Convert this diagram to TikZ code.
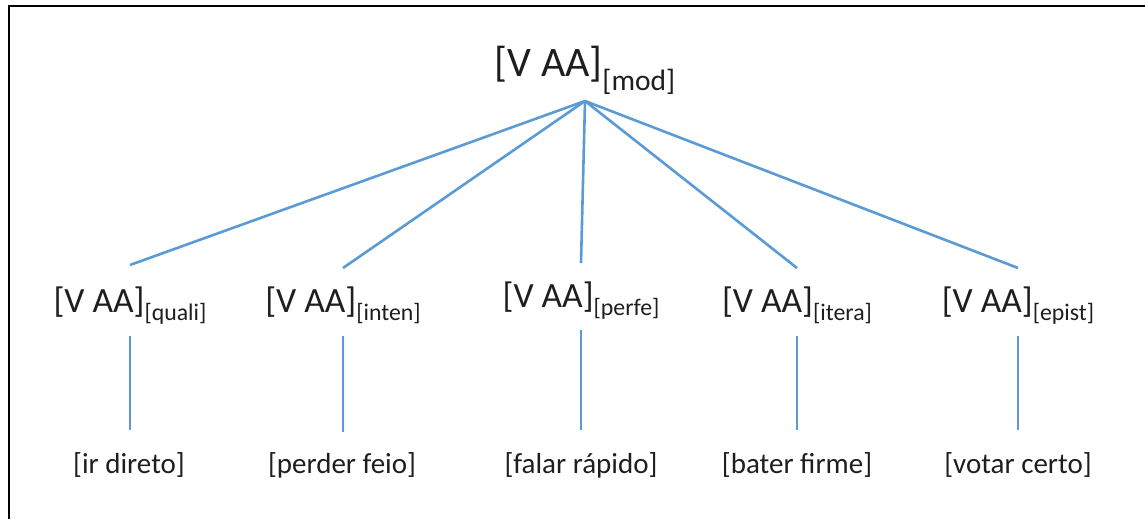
\documentclass[tikz,border=0pt]{standalone}
\usepackage{fontspec}
\setmainfont{Carlito}
\definecolor{lineblue}{RGB}{91,155,213}
\definecolor{txtgray}{RGB}{30,30,30}
\newcommand{\vaatop}[1]{{\fontsize{42}{45}\selectfont [V AA]}\raisebox{-14pt}{\fontsize{29.5}{32}\selectfont [#1]}}
\newcommand{\vaamid}[1]{{\fontsize{35.5}{38}\selectfont [V AA]}\raisebox{-8pt}{\fontsize{23.8}{26}\selectfont [#1]}}
\newcommand{\leaflab}[1]{{\fontsize{29}{32}\selectfont [#1]}}
\begin{document}
\begin{tikzpicture}[x=1pt,y=-1pt,
  lab/.style={inner sep=0pt, anchor=base, text=txtgray},
  conn/.style={draw=lineblue, line width=2.6pt},
  frame/.style={draw=black, line width=2pt}]
\useasboundingbox (0,0) rectangle (1145,519);
\draw[frame] (9,519) -- (9,6) -- (1145,6);
% top node
\node[lab] (top) at (585,76) {\vaatop{mod}};
\coordinate (apex) at (585,101);
% middle nodes
\node[lab] (m1) at (130,312) {\vaamid{quali}};
\node[lab] (m2) at (343,312) {\vaamid{inten}};
\node[lab] (m3) at (581,307) {\vaamid{perfe}};
\node[lab] (m4) at (797,312) {\vaamid{itera}};
\node[lab] (m5) at (1018,312) {\vaamid{epist}};
% leaf nodes
\node[lab] (l1) at (129,473) {\leaflab{ir direto}};
\node[lab] (l2) at (342,473) {\leaflab{perder feio}};
\node[lab] (l3) at (581,473) {\leaflab{falar rápido}};
\node[lab] (l4) at (797,473) {\leaflab{bater firme}};
\node[lab] (l5) at (1018,473) {\leaflab{votar certo}};
% connector endpoints
\coordinate (a1) at (130,265);
\coordinate (a2) at (343,268);
\coordinate (a3) at (581,263);
\coordinate (a4) at (797,268);
\coordinate (a5) at (1018,268);
\coordinate (b1) at (130,336); \coordinate (c1) at (130,430);
\coordinate (b2) at (343,336); \coordinate (c2) at (343,432);
\coordinate (b3) at (581,330); \coordinate (c3) at (581,430);
\coordinate (b4) at (797,336); \coordinate (c4) at (797,430);
\coordinate (b5) at (1018,336); \coordinate (c5) at (1018,430);
\foreach \i in {1,...,5} {
  \draw[conn] (apex) -- (a\i);
  \draw[conn] (b\i) -- (c\i);
}
\end{tikzpicture}
\end{document}
